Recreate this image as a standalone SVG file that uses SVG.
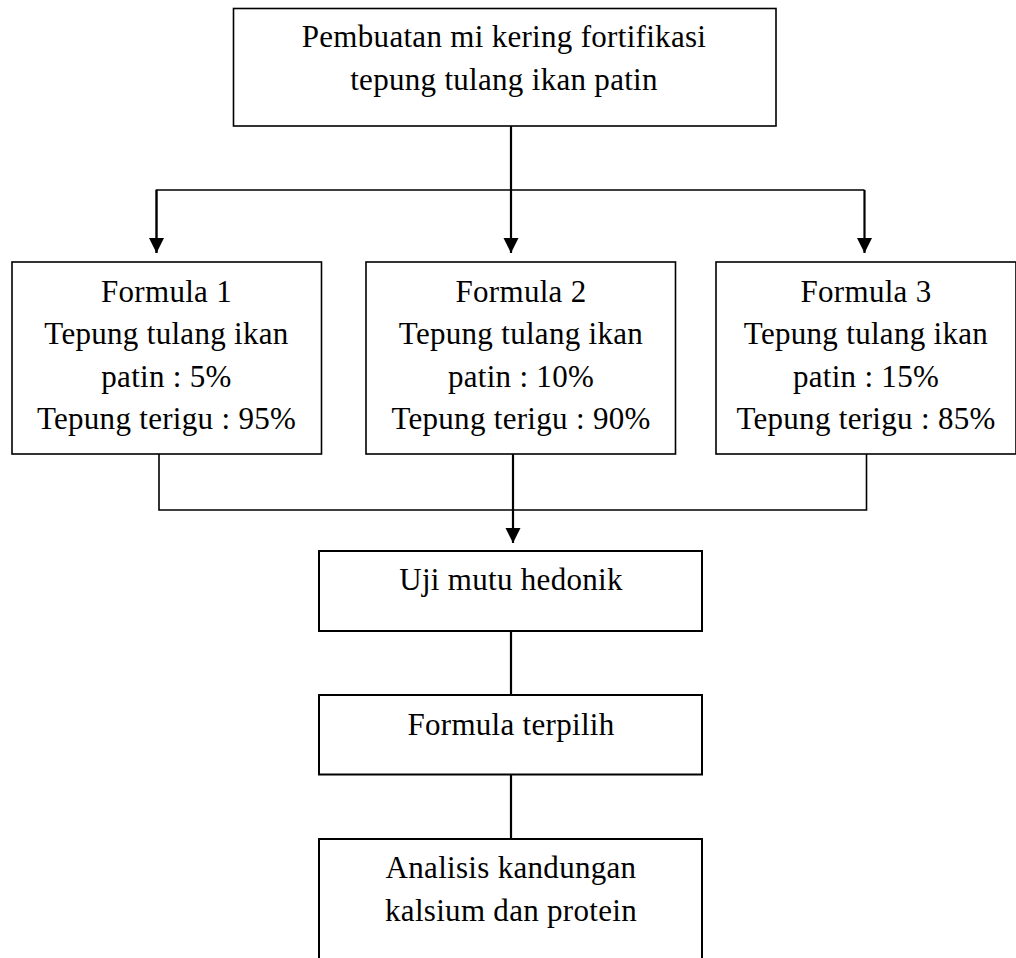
<svg xmlns="http://www.w3.org/2000/svg" width="1016" height="958" viewBox="0 0 1016 958">
<style>
.box{fill:#fff;stroke:#000;stroke-width:1.6}
.box2{fill:#fff;stroke:#000;stroke-width:2}
.t{font-family:"Liberation Serif","Times New Roman",serif;font-size:31px;letter-spacing:0.3px;fill:#000;text-anchor:middle}
.c{fill:none;stroke:#000;stroke-width:1.6}
.a{fill:none;stroke:#000;stroke-width:2.2}
</style>
<defs>
<marker id="ah" markerUnits="userSpaceOnUse" markerWidth="16" markerHeight="16" viewBox="0 0 16 16" refX="15" refY="7.5" orient="auto">
<path d="M0,0 L15,7.5 L0,15 z" fill="#000"/>
</marker>
</defs>
<g id="connectors">
<line class="a" x1="511" y1="126" x2="511" y2="253" marker-end="url(#ah)"/>
<polyline class="c" points="156.5,253 156.5,190 864.5,190"/>
<line class="a" x1="156.5" y1="190" x2="156.5" y2="253" marker-end="url(#ah)"/>
<line class="a" x1="864.5" y1="190" x2="864.5" y2="253" marker-end="url(#ah)"/>
<polyline class="c" points="159,454 159,510 866.5,510 866.5,454"/>
<line class="a" x1="513" y1="454" x2="513" y2="543" marker-end="url(#ah)"/>
<line class="a" x1="511" y1="631" x2="511" y2="695"/>
<line class="a" x1="511" y1="774" x2="511" y2="839"/>
</g>
<g id="top">
<rect class="box" x="233.5" y="8.5" width="542.5" height="117.5"/>
<text class="t" x="504" y="47">Pembuatan mi kering fortifikasi</text>
<text class="t" x="504" y="90">tepung tulang ikan patin</text>
</g>
<g id="formula1">
<rect class="box" x="12" y="262" width="309.5" height="192"/>
<text class="t" x="166.5" y="302">Formula 1</text>
<text class="t" x="166.5" y="344">Tepung tulang ikan</text>
<text class="t" x="166.5" y="386.5">patin : 5%</text>
<text class="t" x="166.5" y="429">Tepung terigu : 95%</text>
</g>
<g id="formula2">
<rect class="box" x="366" y="262" width="309.5" height="192"/>
<text class="t" x="521" y="302">Formula 2</text>
<text class="t" x="521" y="344">Tepung tulang ikan</text>
<text class="t" x="521" y="386.5">patin : 10%</text>
<text class="t" x="521" y="429">Tepung terigu : 90%</text>
</g>
<g id="formula3">
<rect class="box" x="716" y="262" width="300" height="192"/>
<text class="t" x="866" y="302">Formula 3</text>
<text class="t" x="866" y="344">Tepung tulang ikan</text>
<text class="t" x="866" y="386.5">patin : 15%</text>
<text class="t" x="866" y="429">Tepung terigu : 85%</text>
</g>
<g id="uji">
<rect class="box2" x="319" y="551" width="383" height="80"/>
<text class="t" x="511" y="590">Uji mutu hedonik</text>
</g>
<g id="terpilih">
<rect class="box2" x="319" y="695" width="383" height="79.5"/>
<text class="t" x="511" y="735">Formula terpilih</text>
</g>
<g id="analisis">
<rect class="box2" x="319" y="839" width="383" height="140"/>
<text class="t" x="511" y="877.5">Analisis kandungan</text>
<text class="t" x="511" y="920.5">kalsium dan protein</text>
</g>
</svg>
